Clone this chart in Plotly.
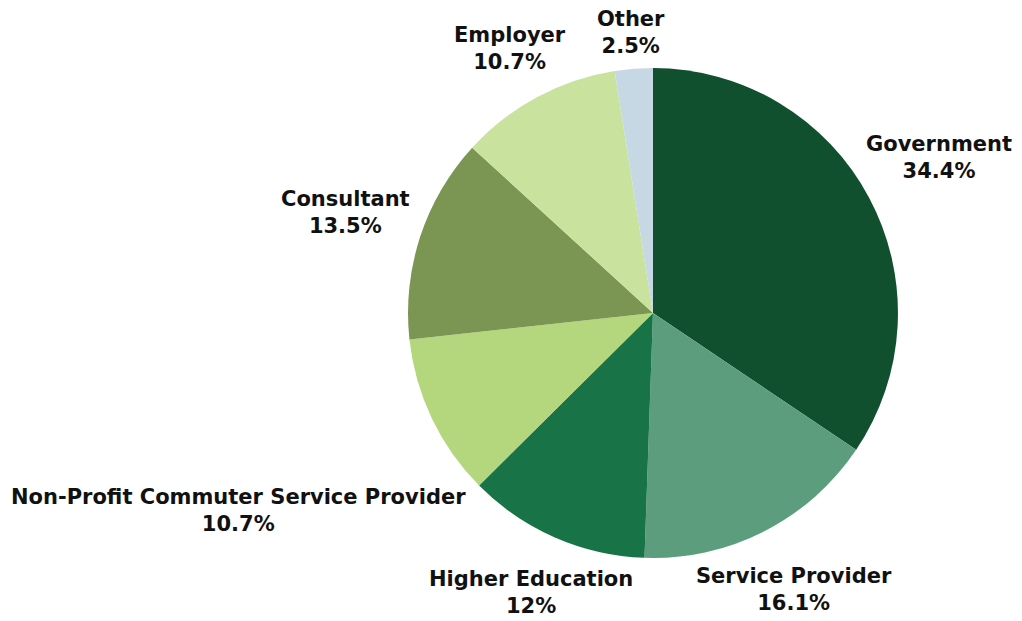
import math
import plotly.graph_objects as go

labels = ["Government", "Service Provider", "Higher Education",
          "Non-Profit Commuter Service Provider", "Consultant", "Employer", "Other"]
values = [34.4, 16.1, 12, 10.7, 13.5, 10.7, 2.5]
value_text = ["34.4%", "16.1%", "12%", "10.7%", "13.5%", "10.7%", "2.5%"]
colors = ["#10502f", "#5c9d7e", "#187447", "#b4d67c", "#7b9552", "#c9e29e", "#c5d8e4"]

W, H = 1022, 621
FONT_FAMILY = "DejaVu Sans"
FONT_SIZE = 21
dom_x = [0.3914, 0.8708]
dom_y = [0.1143, 0.9034]


def measure(text, size):
    try:
        from PIL import ImageFont
        f = ImageFont.truetype("DejaVuSans-Bold.ttf", size)
        return f.getlength(text)
    except Exception:
        return len(text) * 0.62 * size


# geometry of the pie in figure pixels
cx = W * (dom_x[0] + dom_x[1]) / 2
cy = H * (1 - (dom_y[0] + dom_y[1]) / 2)
R = min(W * (dom_x[1] - dom_x[0]), H * (dom_y[1] - dom_y[0])) / 2
GAP = 10
RIGHT_LIMIT = W - 18  # keep labels inside the visible page

total = sum(values)
annotations = []
cum = 0.0
for lab, v, vt in zip(labels, values, value_text):
    mid = (cum + v / 2) / total * 2 * math.pi
    cum += v
    dx, dy = math.sin(mid), -math.cos(mid)
    hw = max(measure(lab, FONT_SIZE), measure(vt, FONT_SIZE)) / 2
    hh = 1.2 * FONT_SIZE

    def dist(t):
        px, py = t * dx, t * dy
        ex = max(abs(px) - hw, 0)
        ey = max(abs(py) - hh, 0)
        return math.hypot(ex, ey)

    lo, hi = 0.0, 2000.0
    for _ in range(60):
        m = (lo + hi) / 2
        if dist(m) < R + GAP:
            lo = m
        else:
            hi = m
    px, py = cx + hi * dx, cy + hi * dy
    px = min(px, RIGHT_LIMIT - hw)
    annotations.append(dict(
        x=px / W, y=1 - py / H, xref="paper", yref="paper",
        text=f"<b>{lab}</b><br><b>{vt}</b>",
        showarrow=False, xanchor="center", yanchor="middle", align="center",
        font=dict(family=FONT_FAMILY, size=FONT_SIZE, color="#111111"),
    ))

fig = go.Figure(go.Pie(
    labels=labels,
    values=values,
    sort=False,
    direction="clockwise",
    rotation=0,
    marker=dict(colors=colors, line=dict(width=0)),
    textinfo="none",
    showlegend=False,
    hovertemplate="%{label}: %{value}%<extra></extra>",
    domain=dict(x=dom_x, y=dom_y),
))

fig.update_layout(
    width=W, height=H,
    margin=dict(l=0, r=0, t=0, b=0),
    paper_bgcolor="white",
    plot_bgcolor="white",
    annotations=annotations,
)

fig.write_html("out.html")
